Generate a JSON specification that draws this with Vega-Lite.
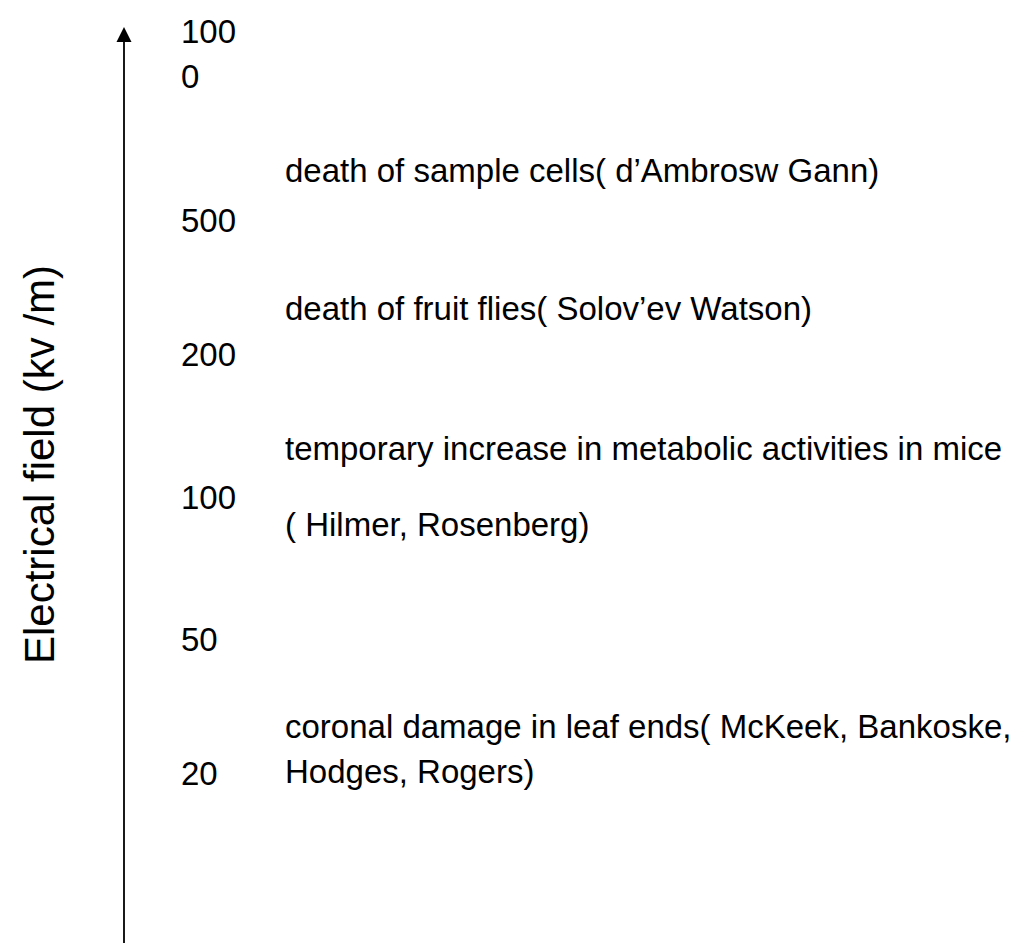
{
  "$schema": "https://vega.github.io/schema/vega-lite/v6.json",
  "width": 1025,
  "height": 944,
  "padding": 0,
  "autosize": {"type": "fit", "contains": "padding"},
  "background": "white",
  "config": {"view": {"stroke": null}},
  "datasets": {
    "arrow": [{"x": 124, "y": 41, "y2": 944}],
    "head": [{"x": 124, "y": 34.5}],
    "labels": [
      {"label": "100", "x": 181, "y": 43},
      {"label": "0", "x": 181, "y": 88},
      {"label": "death of sample cells( d’Ambrosw Gann)", "x": 285, "y": 182},
      {"label": "500", "x": 181, "y": 232},
      {"label": "death of fruit flies( Solov’ev Watson)", "x": 285, "y": 320},
      {"label": "200", "x": 181, "y": 366},
      {"label": "temporary increase in metabolic activities in mice", "x": 285, "y": 460},
      {"label": "100", "x": 181, "y": 510},
      {"label": "( Hilmer, Rosenberg)", "x": 285, "y": 537},
      {"label": "50", "x": 181, "y": 652},
      {"label": "coronal damage in leaf ends( McKeek, Bankoske,", "x": 285, "y": 739},
      {"label": "Hodges, Rogers)", "x": 285, "y": 784},
      {"label": "20", "x": 181, "y": 786}
    ],
    "title": [{"label": "Electrical field (kv /m)", "x": 54, "y": 465}]
  },
  "encoding": {
    "x": {"field": "x", "type": "quantitative", "scale": {"domain": [0, 1025], "nice": false, "zero": false}, "axis": null},
    "y": {"field": "y", "type": "quantitative", "scale": {"domain": [0, 944], "reverse": true, "nice": false, "zero": false}, "axis": null}
  },
  "layer": [
    {
      "data": {"name": "arrow"},
      "mark": {"type": "rule", "stroke": "black", "strokeWidth": 1.8},
      "encoding": {"y2": {"field": "y2"}}
    },
    {
      "data": {"name": "head"},
      "mark": {"type": "point", "shape": "M0,-1L-1,1L1,1Z", "size": 225, "filled": true, "fill": "black", "stroke": null, "opacity": 1}
    },
    {
      "data": {"name": "labels"},
      "mark": {"type": "text", "align": "left", "baseline": "alphabetic", "font": "Liberation Sans", "fontSize": 33, "fill": "black"},
      "encoding": {"text": {"field": "label"}}
    },
    {
      "data": {"name": "title"},
      "mark": {"type": "text", "align": "center", "baseline": "alphabetic", "angle": 270, "font": "Liberation Sans", "fontSize": 42, "fill": "black"},
      "encoding": {"text": {"field": "label"}}
    }
  ]
}
